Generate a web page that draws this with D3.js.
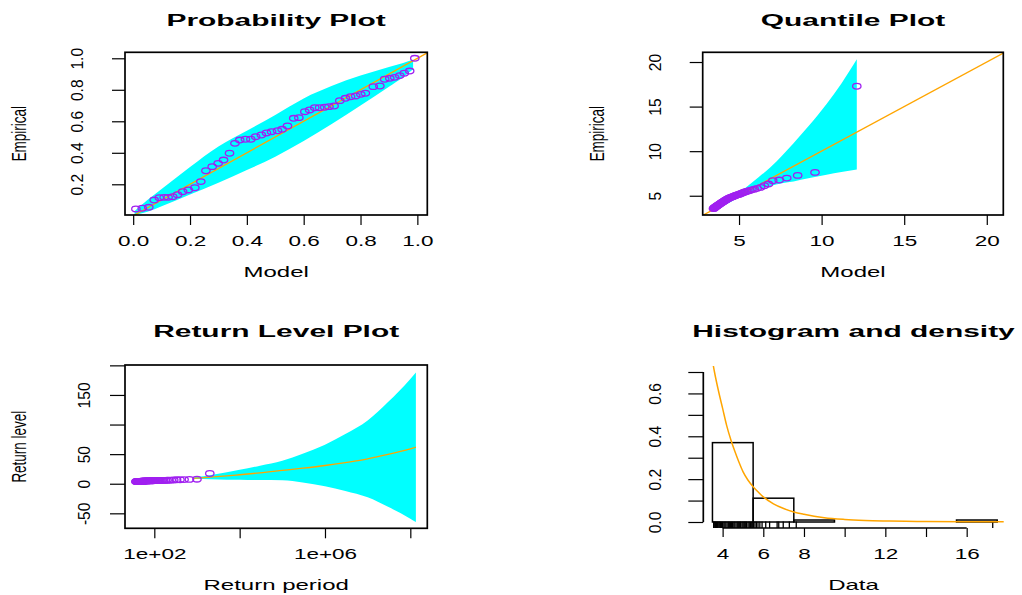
<!DOCTYPE html>
<html>
<head>
<meta charset="utf-8">
<script src="https://cdn.jsdelivr.net/npm/d3@7"></script>
<style>
  html, body { margin: 0; padding: 0; background: #ffffff; }
  svg { display: block; }
  text { font-family: "Liberation Sans", Arial, Helvetica, sans-serif; fill: #000; }
</style>
</head>
<body>
<svg id="chart" width="1022" height="595"></svg>
<script>
// ---------------- data ----------------
// Probability plot: model vs empirical probabilities
const probModel = [0.0095,0.032,0.055,0.074,0.092,0.109,0.123,0.139,0.156,0.174,0.194,0.217,0.238,0.256,0.278,0.299,0.318,0.339,0.358,0.375,0.395,0.414,0.431,0.451,0.469,0.487,0.508,0.524,0.543,0.565,0.583,0.604,0.621,0.639,0.656,0.674,0.689,0.707,0.727,0.747,0.765,0.783,0.801,0.817,0.845,0.868,0.885,0.903,0.920,0.938,0.954,0.973,0.991];
const probEmpirical = [0.043,0.048,0.054,0.100,0.115,0.117,0.117,0.121,0.134,0.153,0.164,0.178,0.217,0.286,0.312,0.333,0.354,0.397,0.460,0.481,0.486,0.486,0.502,0.513,0.526,0.534,0.540,0.549,0.570,0.619,0.623,0.661,0.672,0.686,0.686,0.689,0.693,0.697,0.731,0.746,0.756,0.761,0.771,0.778,0.820,0.824,0.867,0.873,0.879,0.890,0.905,0.919,1.000];
const probBandX     = [0.005,0.05,0.10,0.20,0.30,0.40,0.50,0.60,0.70,0.80,0.90,0.95,0.985];
const probBandUpper = [0.030,0.10,0.17,0.31,0.44,0.54,0.64,0.745,0.825,0.89,0.945,0.97,0.99];
const probBandLower = [0.005,0.025,0.06,0.135,0.21,0.29,0.375,0.475,0.585,0.70,0.82,0.88,0.93];

// Sorted sample (exceedances)
const sampleValues = [3.56,3.58,3.62,3.65,3.70,3.74,3.78,3.82,3.86,3.90,3.95,4.00,4.06,4.11,4.16,4.22,4.28,4.33,4.39,4.44,4.49,4.55,4.60,4.66,4.72,4.77,4.82,4.87,4.90,4.96,5.01,5.06,5.10,5.14,5.18,5.25,5.31,5.37,5.43,5.48,5.52,5.59,5.66,5.74,5.83,5.94,6.12,6.31,6.68,6.76,6.98,7.28,7.62,17.28];

// Quantile plot: model quantiles paired with the sorted sample
const qqModel = [3.45,3.48,3.50,3.52,3.55,3.58,3.61,3.64,3.67,3.70,3.74,3.78,3.82,3.86,3.90,3.95,3.99,4.04,4.09,4.13,4.18,4.23,4.28,4.33,4.39,4.45,4.51,4.57,4.63,4.69,4.76,4.83,4.90,4.97,5.04,5.12,5.20,5.28,5.36,5.44,5.54,5.65,5.78,5.93,6.10,6.31,6.53,6.78,7.04,7.43,7.89,8.55,9.60,12.13];
const qqBandX     = [3.45,4.0,4.5,5.0,5.6,6.2,6.9,7.6,8.3,9.2,10.3,11.2,12.13];
const qqBandUpper = [3.5,4.15,4.75,5.35,6.2,7.1,8.2,9.5,10.9,12.8,15.3,17.6,20.3];
const qqBandLower = [3.4,3.85,4.3,4.85,5.3,5.7,6.1,6.4,6.6,6.95,7.35,7.65,7.95];

// Return level plot
const rlPeriod = [36.97,37.67,38.39,39.15,39.93,40.74,41.59,42.48,43.40,44.37,45.38,46.43,47.54,48.70,49.91,51.19,52.54,53.96,55.46,57.04,58.72,60.50,62.39,64.40,66.55,68.84,71.30,73.94,76.79,79.86,83.19,86.80,90.75,95.07,99.83,105.1,110.9,117.4,124.8,133.1,142.6,153.6,166.4,181.5,199.7,221.8,249.6,285.2,332.8,399.3,499.1,665.5,998.3,1996.5];
const rlCurvePeriod = [800,1e3,2e3,5e3,1e4,3e4,1e5,3e5,1e6,3e6,1e7,3e7,1e8,1.35e8];
const rlLevel = [9.2,9.6,11.0,13.2,15.2,18.3,22.4,26.2,30.8,35.8,42.0,49.5,59.0,61.7];
const rlUpper = [10.2,11.4,14.4,19.6,23.5,30.5,39.0,50.5,66.0,84.0,107.0,138.0,177.0,188.0];
const rlLower = [8.2,7.8,7.6,6.8,6.9,6.1,5.8,1.9,-4.4,-12.4,-23.0,-39.0,-59.0,-64.6];

// Histogram and fitted density
const histBreaks = [3.5,5.5,7.5,9.5,11.5,13.5,15.5,17.5];
const densityX = [3.45,3.6,3.8,4.0,4.2,4.4,4.6,4.8,5.0,5.25,5.5,5.75,6.0,6.5,7.0,7.5,8.0,9.0,10,11,12,13,14,16,17.9];
const densityY = [0.78,0.70,0.61,0.53,0.45,0.385,0.33,0.28,0.235,0.195,0.165,0.14,0.117,0.085,0.063,0.047,0.036,0.020,0.012,0.0075,0.005,0.0033,0.0023,0.0012,0.0007];

// Tick values and labels
const probTicks = [0, 0.2, 0.4, 0.6, 0.8, 1.0];
const probYTicks = [0.2, 0.4, 0.6, 0.8, 1.0];
const qqTicks = [5, 10, 15, 20];
const rlXTicks = [1e2, 1e4, 1e6, 1e8];
const rlXLabels = ["1e+02", "", "1e+06", ""];
const rlYTicks = [-50, 0, 50, 100, 150, 200];
const rlYLabels = ["-50", "0", "50", "", "150", ""];
const histXTicks = [4, 6, 8, 10, 12, 14, 16];
const histXLabels = ["4", "6", "8", "", "12", "", "16"];
const histYTicks = [0, 0.1, 0.2, 0.3, 0.4, 0.5, 0.6, 0.7];
const histYLabels = ["0.0", "", "0.2", "", "0.4", "", "0.6", ""];

// ---------------- styling ----------------
const CYAN = "#00ffff", ORANGE = "#ffa500", PURPLE = "#a020f0";
const TITLE = { size: 17, sx: 1.76, bold: true };
const XLAB  = { size: 15, sx: 1.6 };
const XTICK = { size: 15, sx: 1.5 };
const YLAB  = { size: 13.5, sx: 1.46 };
const YTICK = { size: 15.6, sx: 1.05 };
const PT = { rx: 4.2, ry: 2.8, w: 1.3 };

const svg = d3.select("#chart");

function label(g, s, x, y, o, rotated) {
  g.append("text")
    .attr("transform", `translate(${x},${y}) scale(${o.sx},1)` + (rotated ? " rotate(-90)" : ""))
    .attr("text-anchor", "middle")
    .attr("font-size", o.size)
    .attr("font-weight", o.bold ? "bold" : null)
    .text(s);
}

function bottomAxis(g, scale, ticks, labels, y, tickLen) {
  const ax = d3.axisBottom(scale).tickValues(ticks).tickSize(tickLen).tickSizeOuter(0)
    .tickFormat((d, i) => labels[i]);
  const a = g.append("g").attr("transform", `translate(0,${y})`).call(ax);
  a.select(".domain").remove();
  a.selectAll("line").attr("stroke", "#000").attr("stroke-width", 1.2);
  a.selectAll("text")
    .attr("y", null).attr("dy", null)
    .attr("font-size", XTICK.size)
    .attr("fill", "#000")
    .attr("font-family", null)
    .attr("transform", `translate(0,30.5) scale(${XTICK.sx},1)`);
  return a;
}

function leftAxis(g, scale, ticks, labels, x, tickLen, labelOffset) {
  const ax = d3.axisLeft(scale).tickValues(ticks).tickSize(tickLen).tickSizeOuter(0)
    .tickFormat((d, i) => labels[i]);
  const a = g.append("g").attr("transform", `translate(${x},0)`).call(ax);
  a.select(".domain").remove();
  a.selectAll("line").attr("stroke", "#000").attr("stroke-width", 1.2);
  a.selectAll("text")
    .attr("x", null).attr("dy", null)
    .attr("font-size", YTICK.size)
    .attr("fill", "#000")
    .attr("font-family", null)
    .attr("text-anchor", "middle")
    .attr("transform", `translate(${-labelOffset},0) scale(${YTICK.sx},1) rotate(-90)`);
  return a;
}

function clipFor(id, b) {
  svg.append("clipPath").attr("id", id).append("rect")
    .attr("x", b.x0).attr("y", b.y0).attr("width", b.x1 - b.x0).attr("height", b.y1 - b.y0);
  return `url(#${id})`;
}

function frame(g, b) {
  g.append("rect").attr("x", b.x0).attr("y", b.y0)
    .attr("width", b.x1 - b.x0).attr("height", b.y1 - b.y0)
    .attr("fill", "none").attr("stroke", "#000").attr("stroke-width", 1.7);
}

function points(g, xs, ys, x, y, clip) {
  g.append("g").attr("clip-path", clip)
    .selectAll("ellipse").data(xs).join("ellipse")
    .attr("cx", d => x(d)).attr("cy", (d, i) => y(ys[i]))
    .attr("rx", PT.rx).attr("ry", PT.ry)
    .attr("fill", "none").attr("stroke", PURPLE).attr("stroke-width", PT.w);
}

// ---------------- Probability Plot ----------------
(function () {
  const b = { x0: 125, x1: 427.3, y0: 52.3, y1: 215 };
  const x = d3.scaleLinear().domain([-0.0288, 1.035]).range([b.x0, b.x1]);
  const y = d3.scaleLinear().domain([0.005, 1.038]).range([b.y1, b.y0]);
  const g = svg.append("g");
  const clip = clipFor("clipA", b);
  const area = d3.area().x((d, i) => x(probBandX[i])).y0((d, i) => y(probBandLower[i])).y1((d, i) => y(probBandUpper[i])).curve(d3.curveMonotoneX);
  g.append("path").datum(probBandX).attr("d", area).attr("fill", CYAN).attr("clip-path", clip);
  g.append("line").attr("clip-path", clip)
    .attr("x1", x(-0.1)).attr("y1", y(-0.1)).attr("x2", x(1.2)).attr("y2", y(1.2))
    .attr("stroke", ORANGE).attr("stroke-width", 1.3);
  points(g, probModel, probEmpirical, x, y, clip);
  frame(g, b);
  bottomAxis(g, x, probTicks, probTicks.map(d3.format(".1f")), b.y1, 10);
  leftAxis(g, y, probYTicks, probYTicks.map(d3.format(".1f")), b.x0, 13, 42);
  label(g, "Probability Plot", (b.x0 + b.x1) / 2, 25.7, TITLE);
  label(g, "Model", (b.x0 + b.x1) / 2, 277.3, XLAB);
  label(g, "Empirical", 25.9, (b.y0 + b.y1) / 2, YLAB, true);
})();

// ---------------- Quantile Plot ----------------
(function () {
  const b = { x0: 702.7, x1: 1003.3, y0: 52.3, y1: 215 };
  const x = d3.scaleLinear().domain([2.8, 21.0]).range([b.x0, b.x1]);
  const y = d3.scaleLinear().domain([2.84, 21.09]).range([b.y1, b.y0]);
  const g = svg.append("g");
  const clip = clipFor("clipB", b);
  const area = d3.area().x((d, i) => x(qqBandX[i])).y0((d, i) => y(qqBandLower[i])).y1((d, i) => y(qqBandUpper[i])).curve(d3.curveMonotoneX);
  g.append("path").datum(qqBandX).attr("d", area).attr("fill", CYAN).attr("clip-path", clip);
  g.append("line").attr("clip-path", clip)
    .attr("x1", x(0)).attr("y1", y(0)).attr("x2", x(25)).attr("y2", y(25))
    .attr("stroke", ORANGE).attr("stroke-width", 1.3);
  points(g, qqModel, sampleValues, x, y, clip);
  frame(g, b);
  bottomAxis(g, x, qqTicks, qqTicks.map(String), b.y1, 10);
  leftAxis(g, y, qqTicks, qqTicks.map(String), b.x0, 13, 42);
  label(g, "Quantile Plot", (b.x0 + b.x1) / 2, 25.7, TITLE);
  label(g, "Model", (b.x0 + b.x1) / 2, 277.3, XLAB);
  label(g, "Empirical", 604.2, (b.y0 + b.y1) / 2, YLAB, true);
})();

// ---------------- Return Level Plot ----------------
(function () {
  const b = { x0: 125, x1: 427.3, y0: 365, y1: 528.3 };
  const x = d3.scaleLog().domain([Math.pow(10, 1.313), Math.pow(10, 8.398)]).range([b.x0, b.x1]);
  const y = d3.scaleLinear().domain([-75.3, 200.6]).range([b.y1, b.y0]);
  const g = svg.append("g");
  const clip = clipFor("clipC", b);
  const area = d3.area().x((d, i) => x(rlCurvePeriod[i])).y0((d, i) => y(rlLower[i])).y1((d, i) => y(rlUpper[i])).curve(d3.curveMonotoneX);
  g.append("path").datum(rlCurvePeriod).attr("d", area).attr("fill", CYAN).attr("clip-path", clip);
  const line = d3.line().x((d, i) => x(rlCurvePeriod[i])).y((d, i) => y(rlLevel[i])).curve(d3.curveMonotoneX);
  g.append("path").datum(rlCurvePeriod).attr("d", line).attr("fill", "none")
    .attr("stroke", ORANGE).attr("stroke-width", 1.3).attr("clip-path", clip);
  points(g, rlPeriod, sampleValues, x, y, clip);
  frame(g, b);
  bottomAxis(g, x, rlXTicks, rlXLabels, b.y1, 10);
  leftAxis(g, y, rlYTicks, rlYLabels, b.x0, 15, 35);
  label(g, "Return Level Plot", (b.x0 + b.x1) / 2, 337.3, TITLE);
  label(g, "Return period", (b.x0 + b.x1) / 2, 590, XLAB);
  label(g, "Return level", 25.9, (b.y0 + b.y1) / 2, YLAB, true);
})();

// ---------------- Histogram and density ----------------
(function () {
  const b = { x0: 703.3, x1: 1003.7, y0: 366, y1: 528 };
  const x = d3.scaleLinear().domain([3.05, 17.82]).range([b.x0, b.x1]);
  const y = d3.scaleLinear().domain([-0.028, 0.728]).range([b.y1, b.y0]);
  const g = svg.append("g");
  const clip = clipFor("clipD", b);
  const n = sampleValues.length;
  const bins = d3.bin().domain([histBreaks[0], histBreaks[histBreaks.length - 1]])
    .thresholds(histBreaks.slice(1, -1))(sampleValues);
  g.append("g").selectAll("rect").data(bins).join("rect")
    .attr("x", d => x(d.x0)).attr("width", d => x(d.x1) - x(d.x0))
    .attr("y", d => y(d.length / (n * (d.x1 - d.x0))))
    .attr("height", d => y(0) - y(d.length / (n * (d.x1 - d.x0))))
    .attr("fill", "none").attr("stroke", "#000").attr("stroke-width", 1.5);
  // rug of the sample along the bottom
  g.append("g").selectAll("line").data(sampleValues).join("line")
    .attr("x1", d => x(d)).attr("x2", d => x(d))
    .attr("y1", b.y1).attr("y2", b.y1 - 6.5)
    .attr("stroke", "#000").attr("stroke-width", 1.3);
  const dens = d3.line().x((d, i) => x(densityX[i])).y((d, i) => y(densityY[i])).curve(d3.curveMonotoneX);
  g.append("path").datum(densityX).attr("d", dens).attr("fill", "none")
    .attr("stroke", ORANGE).attr("stroke-width", 1.5).attr("clip-path", clip);
  // axes run from first to last tick
  g.append("line").attr("x1", x(histXTicks[0])).attr("x2", x(histXTicks[histXTicks.length - 1]))
    .attr("y1", b.y1).attr("y2", b.y1).attr("stroke", "#000").attr("stroke-width", 1.5);
  g.append("line").attr("x1", b.x0).attr("x2", b.x0)
    .attr("y1", y(histYTicks[0])).attr("y2", y(histYTicks[histYTicks.length - 1]))
    .attr("stroke", "#000").attr("stroke-width", 1.7);
  bottomAxis(g, x, histXTicks, histXLabels, b.y1, 9);
  leftAxis(g, y, histYTicks, histYLabels, b.x0, 15, 42);
  label(g, "Histogram and density", (b.x0 + b.x1) / 2, 337.3, TITLE);
  label(g, "Data", (b.x0 + b.x1) / 2, 590, XLAB);
})();
</script>
</body>
</html>
